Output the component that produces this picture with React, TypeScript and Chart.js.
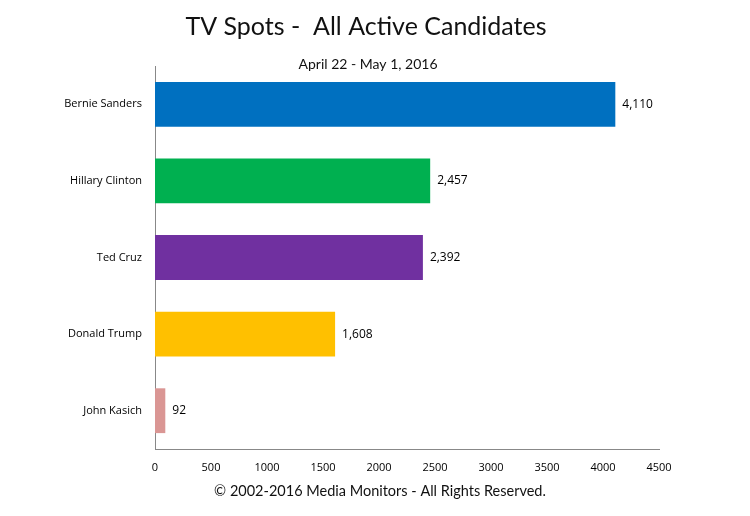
import React, { useEffect, useRef } from "react";
import { Chart, registerables } from "chart.js";

Chart.register(...registerables);

const candidates = ["Bernie Sanders", "Hillary Clinton", "Ted Cruz", "Donald Trump", "John Kasich"];
const spots = [4110, 2457, 2392, 1608, 92];
const barColors = ["#0070C0", "#00B050", "#7030A0", "#FFC000", "#DA9694"];
const titleText = "TV Spots -  All Active Candidates";
const subtitleText = "April 22 - May 1, 2016";
const footerText = "\u00A9 2002-2016 Media Monitors - All Rights Reserved.";

const textPlugin = {
  id: "texts",
  afterDraw(chart: any) {
    const ctx = chart.ctx;
    ctx.save();
    ctx.fillStyle = "#111";
    ctx.textAlign = "center";
    ctx.textBaseline = "middle";
    ctx.font = "25px Lato, 'Open Sans', sans-serif";
    ctx.fillText(titleText, 366, 27);
    ctx.font = "14px Lato, 'Open Sans', sans-serif";
    ctx.fillText(subtitleText, 368, 64);
    ctx.font = "14.5px Lato, 'Open Sans', sans-serif";
    ctx.fillText(footerText, 380, 491);
    // data labels
    const meta = chart.getDatasetMeta(0);
    ctx.font = "12px 'Open Sans', sans-serif";
    ctx.textAlign = "left";
    ctx.fillStyle = "#000";
    meta.data.forEach((bar: any, i: number) => {
      ctx.fillText(spots[i].toLocaleString("en-US"), bar.x + 7, bar.y);
    });
    ctx.restore();
  },
};

export default function App() {
  const ref = useRef<HTMLCanvasElement>(null);
  useEffect(() => {
    document.body.style.margin = "0";
    const chart = new Chart(ref.current!, {
      type: "bar",
      data: {
        labels: candidates,
        datasets: [
          {
            data: spots,
            backgroundColor: barColors,
            categoryPercentage: 1,
            barPercentage: 0.585,
          },
        ],
      },
      options: {
        indexAxis: "y",
        animation: false,
        responsive: false,
        layout: { padding: { left: 0, right: 91, top: 66, bottom: 0 } },
        plugins: { legend: { display: false }, tooltip: { enabled: false } },
        scales: {
          x: {
            min: 0,
            max: 4500,
            ticks: {
              stepSize: 500,
              color: "#000",
              padding: 12,
              font: { size: 11, family: "'Open Sans', sans-serif" },
              callback: (v: any) => String(v),
            },
            grid: { display: false, drawTicks: false },
            border: { color: "#888", width: 1 },
            afterFit(scale: any) {
              scale.height = 67;
            },
          },
          y: {
            ticks: { color: "#000", padding: 13, font: { size: 11, family: "'Open Sans', sans-serif" } },
            grid: { display: false, drawTicks: false },
            border: { color: "#888", width: 1 },
            afterFit(scale: any) {
              scale.width = 155;
            },
          },
        },
      },
      plugins: [textPlugin],
    });
    return () => chart.destroy();
  }, []);
  return <canvas ref={ref} width={750} height={516} style={{ display: "block" }} />;
}
